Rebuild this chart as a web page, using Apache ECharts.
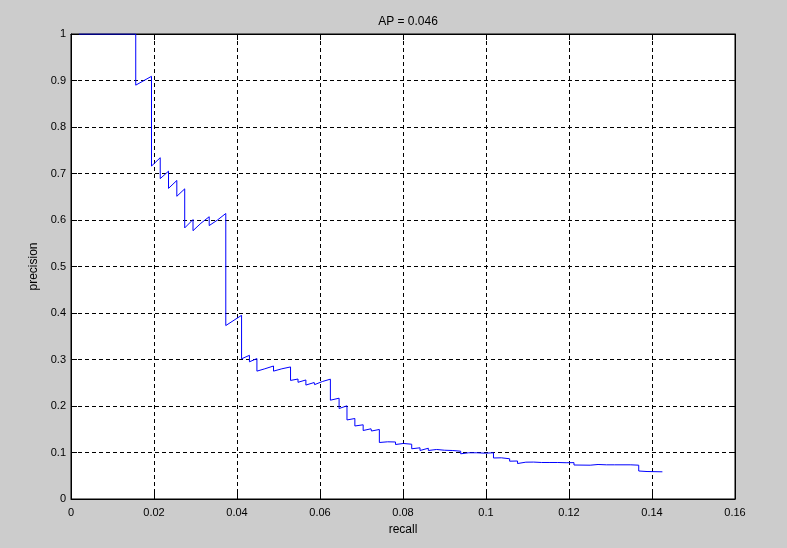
<!DOCTYPE html>
<html>
<head>
<meta charset="utf-8">
<script src="https://cdn.jsdelivr.net/npm/echarts@6/dist/echarts.min.js"></script>
<style>
html,body{margin:0;padding:0;background:#cccccc;}
#chart{width:787px;height:548px;}
</style>
</head>
<body>
<div id="chart"></div>
<script>
// Values (curve vertices)
var recall = [
  0.0019, 0.0156, 0.0156, 0.0194, 0.0194, 0.0215, 0.0215, 0.0235, 0.0235, 0.0255,
  0.0255, 0.0274, 0.0274, 0.0294, 0.0294, 0.0313, 0.0333, 0.0333, 0.0353, 0.0373,
  0.0373, 0.0411, 0.0411, 0.0430, 0.0430, 0.0448, 0.0448, 0.0467, 0.0488, 0.0488,
  0.0508, 0.0529, 0.0529, 0.0547, 0.0547, 0.0566, 0.0566, 0.0586, 0.0587, 0.0606,
  0.0625, 0.0625, 0.0646, 0.0646, 0.0665, 0.0665, 0.0684, 0.0684, 0.0704, 0.0704,
  0.0723, 0.0724, 0.0743, 0.0743, 0.0763, 0.0763, 0.0782, 0.0782, 0.0801, 0.0801,
  0.0821, 0.0821, 0.0841, 0.0841, 0.0861, 0.0861, 0.0881, 0.0881, 0.0900, 0.0900,
  0.0920, 0.0920, 0.0939, 0.0939, 0.0958, 0.0978, 0.0978, 0.0998, 0.1018, 0.1018,
  0.1037, 0.1037, 0.1057, 0.1057, 0.1076, 0.1076, 0.1096, 0.1115, 0.1115, 0.1134,
  0.1134, 0.1154, 0.1154, 0.1173, 0.1173, 0.1193, 0.1212, 0.1212, 0.1251, 0.1270,
  0.1270, 0.1290, 0.1290, 0.1310, 0.1349, 0.1349, 0.1368, 0.1368, 0.1388, 0.1425
];
var precision = [
  1.000, 1.000, 0.890, 0.909, 0.716, 0.734, 0.689, 0.705, 0.668, 0.685,
  0.651, 0.667, 0.583, 0.601, 0.577, 0.593, 0.607, 0.588, 0.600, 0.614,
  0.373, 0.395, 0.3015, 0.309, 0.295, 0.302, 0.275, 0.280, 0.286, 0.275,
  0.280, 0.284, 0.255, 0.258, 0.251, 0.256, 0.245, 0.2505, 0.246, 0.2527,
  0.2577, 0.2125, 0.2168, 0.1946, 0.2004, 0.170, 0.1731, 0.157, 0.1596, 0.1473,
  0.151, 0.1462, 0.1495, 0.1215, 0.123, 0.1204, 0.1226, 0.1172, 0.1194, 0.1157,
  0.1178, 0.108, 0.1101, 0.1043, 0.1092, 0.1043, 0.1065, 0.1037, 0.1049, 0.1028,
  0.1043, 0.1015, 0.1028, 0.0972, 0.0994, 0.0994, 0.0968, 0.0985, 0.0994, 0.0882,
  0.0886, 0.0865, 0.0865, 0.0813, 0.0817, 0.0763, 0.0792, 0.0794, 0.0763, 0.0785,
  0.0763, 0.0785, 0.0763, 0.0785, 0.0763, 0.0780, 0.0782, 0.0731, 0.0727, 0.0742,
  0.0720, 0.0735, 0.0720, 0.0735, 0.0735, 0.0714, 0.0727, 0.0602, 0.0591, 0.0585
];
var xTicks = [0, 0.02, 0.04, 0.06, 0.08, 0.1, 0.12, 0.14, 0.16];
var yTicks = [0, 0.1, 0.2, 0.3, 0.4, 0.5, 0.6, 0.7, 0.8, 0.9, 1];
var titleText = 'AP = 0.046';
var xName = 'recall';
var yName = 'precision';

var pts = recall.map(function (r, i) { return [r, precision[i]]; });
var font = 'Liberation Sans, Arial, sans-serif';

var chart = echarts.init(document.getElementById('chart'), null, {renderer: 'canvas'});
var grid = {left: 71, right: 52, top: 34, bottom: 49, show: true, backgroundColor: '#ffffff', borderColor: '#000000', borderWidth: 1};
var split = {show: true, showMinLine: false, showMaxLine: false, lineStyle: {color: '#000000', type: [4, 3], width: 1}};
function baseAxis(pos, min, max, interval, showLabel, name) {
  return {
    type: 'value', position: pos, min: min, max: max, interval: interval,
    name: name || '', nameLocation: 'middle',
    nameTextStyle: {color: '#000', fontFamily: font, fontSize: 12},
    axisLine: {show: true, onZero: false, lineStyle: {color: '#000', width: 1}},
    axisTick: {show: true, inside: true, length: 6, lineStyle: {color: '#000'}},
    axisLabel: {show: showLabel, color: '#000', fontFamily: font, fontSize: 11, margin: 6},
    splitLine: showLabel ? split : {show: false}
  };
}
var xMain = baseAxis('bottom', xTicks[0], xTicks[xTicks.length - 1], xTicks[1] - xTicks[0], true, xName);
xMain.nameGap = 25;
xMain.axisLabel.margin = 8;
var yMain = baseAxis('left', yTicks[0], yTicks[yTicks.length - 1], 0.1, true, yName);
yMain.nameGap = 28;
yMain.nameRotate = 90;
yMain.axisLabel.margin = 5;
var option = {
  backgroundColor: '#cccccc',
  animation: false,
  title: {text: titleText, left: 403, top: 11, textAlign: 'center',
    textStyle: {color: '#000', fontFamily: font, fontSize: 12, fontWeight: 'normal'}},
  grid: grid,
  xAxis: [xMain, baseAxis('top', xTicks[0], xTicks[xTicks.length - 1], xTicks[1] - xTicks[0], false)],
  yAxis: [yMain, baseAxis('right', yTicks[0], yTicks[yTicks.length - 1], 0.1, false)],
  series: [{
    type: 'line', data: pts, xAxisIndex: 0, yAxisIndex: 0,
    symbol: 'none', lineStyle: {color: '#0000ff', width: 1}, clip: true
  }]
};
chart.setOption(option);
</script>
</body>
</html>
